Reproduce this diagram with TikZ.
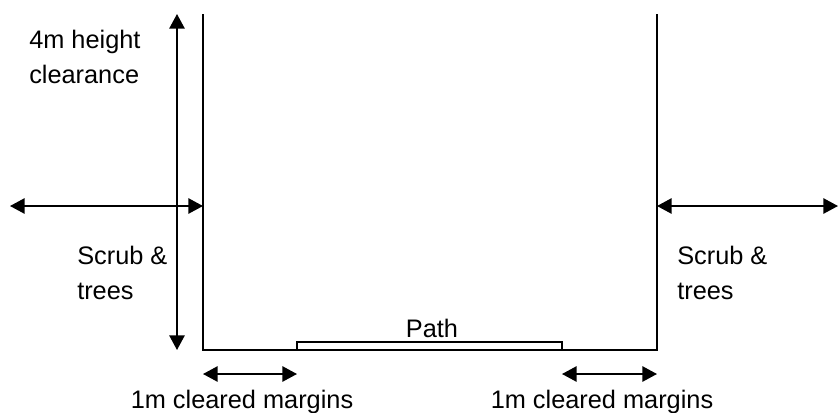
\documentclass[tikz,border=0pt]{standalone}
\usepackage{fontspec}
\setmainfont{Liberation Sans}
\usetikzlibrary{arrows.meta}
\begin{document}
\begin{tikzpicture}
[x=0.75pt, y=-0.75pt, font=\fontsize{19}{26}\selectfont]
\tikzstyle{wall}=[line width=1.2pt]
\tikzstyle{dim}=[line width=1.3pt, {Triangle[length=11pt,width=11.5pt]}-{Triangle[length=11pt,width=11.5pt]}]
\tikzstyle{label}=[inner sep=0pt, align=left]
\useasboundingbox (0,0) rectangle (840,412);
% walls and ground
\coordinate (TL) at (203,14);
\coordinate (BL) at (203,350);
\coordinate (BR) at (657,350);
\coordinate (TR) at (657,14);
\coordinate (P1) at (297,342);
\coordinate (P2) at (562,350);
\draw[wall] (TL)--(BL)--(BR)--(TR);
\draw[wall] (P1) rectangle (P2);
\node[label, anchor=base] (Path) at (432,337) {Path};
% dimension arrows
\coordinate (H1) at (177,14);
\coordinate (H2) at (177,350);
\coordinate (L1) at (10,206);
\coordinate (L2) at (203,206);
\coordinate (R1) at (657,206);
\coordinate (R2) at (838,206);
\coordinate (M1) at (203,374);
\coordinate (M2) at (297,374);
\coordinate (M3) at (562,374);
\coordinate (M4) at (657,374);
\draw[dim] (H1)--(H2);
\draw[dim] (L1)--(L2);
\draw[dim] (R1)--(R2);
\draw[dim] (M1)--(M2);
\draw[dim] (M3)--(M4);
% texts
\node[label, anchor=base west] (Height) at (29,83) {4m height\\clearance};
\node[label, anchor=base west] (ScrubL) at (77,299) {Scrub \&\\trees};
\node[label, anchor=base west] (ScrubR) at (677,299) {Scrub \&\\trees};
\node[label, anchor=base] (MarginL) at (242,408) {1m cleared margins};
\node[label, anchor=base] (MarginR) at (602,408) {1m cleared margins};
\end{tikzpicture}
\end{document}
